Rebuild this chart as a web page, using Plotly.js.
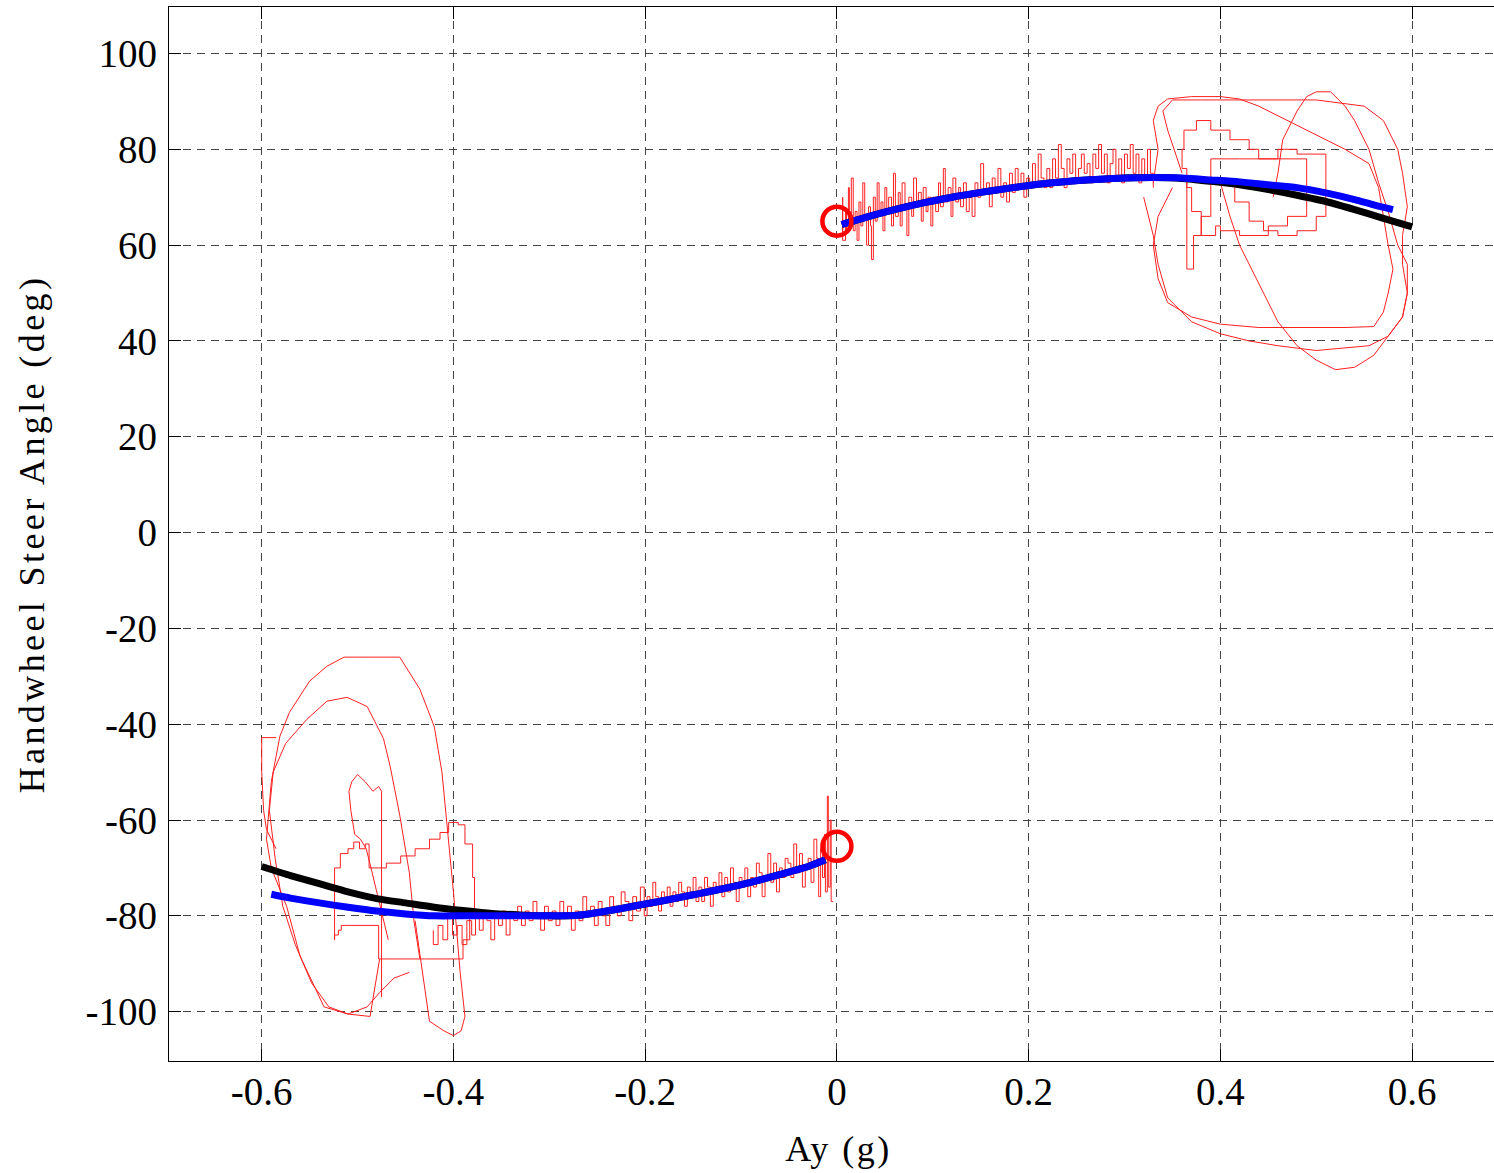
<!DOCTYPE html>
<html>
<head>
<meta charset="utf-8">
<script src="https://cdn.plot.ly/plotly-3.0.1.min.js"></script>
<style>
html, body { margin: 0; padding: 0; overflow: hidden; background: #fff; }
#chart { width: 1512px; height: 1173px; }
.g-xtitle text { letter-spacing: 2.5px; }
.g-ytitle text { letter-spacing: 3.4px; }
</style>
</head>
<body>
<div id="chart"></div>
<script>
// ---- model curves ----
const blackUpX = [0.005,0.03,0.06,0.09,0.12,0.15,0.18,0.21,0.24,0.27,0.30,0.33,0.36,0.39,0.42,0.45,0.48,0.51,0.54,0.57,0.60];
const blackUpY = [64.3,65.8,67.4,68.8,70.0,71.0,71.9,72.7,73.3,73.7,74.0,74.1,73.9,73.3,72.6,71.6,70.4,69.1,67.4,65.6,63.8];
const blueUpX = [0.005,0.03,0.06,0.09,0.12,0.15,0.18,0.21,0.24,0.27,0.30,0.33,0.36,0.39,0.42,0.45,0.48,0.51,0.54,0.56,0.58];
const blueUpY = [64.3,65.8,67.4,68.8,70.0,71.0,71.9,72.7,73.3,73.7,74.0,74.1,74.0,73.6,73.2,72.6,72.0,70.9,69.5,68.4,67.4];
const blackLoX = [-0.600,-0.570,-0.540,-0.510,-0.480,-0.450,-0.420,-0.390,-0.360,-0.330,-0.300,-0.270,-0.240,-0.210,-0.180,-0.150,-0.120,-0.090,-0.060,-0.030,-0.012];
const blackLoY = [-69.7,-71.6,-73.3,-75.0,-76.4,-77.3,-78.2,-78.9,-79.5,-79.8,-80.0,-79.9,-79.0,-77.9,-76.8,-75.6,-74.4,-73.0,-71.4,-69.7,-68.3];
const blueLoX = [-0.590,-0.570,-0.540,-0.510,-0.480,-0.450,-0.420,-0.390,-0.360,-0.330,-0.300,-0.270,-0.240,-0.210,-0.180,-0.150,-0.120,-0.090,-0.060,-0.030,-0.012];
const blueLoY = [-75.5,-76.3,-77.3,-78.2,-79.0,-79.6,-80.0,-80.0,-80.0,-80.0,-80.0,-79.9,-79.0,-77.9,-76.8,-75.6,-74.4,-73.0,-71.4,-69.7,-68.3];

// ---- start markers ----
const startX = [0, 0];
const startY = [65, -65.5];

// ---- measured data (upper, right turn) ----
const redUpJitX = [
0.004,0.006,0.006,0.009,0.010,0.012,0.013,0.015,0.017,0.019,
0.021,0.023,0.025,0.027,0.029,0.031,0.033,0.035,0.036,0.038,
0.040,0.042,0.044,0.046,0.048,0.050,0.052,0.054,0.057,0.059,
0.061,0.064,0.066,0.068,0.071,0.073,0.075,0.078,0.080,0.083,
0.085,0.088,0.090,0.093,0.095,0.098,0.100,0.103,0.106,0.108,
0.111,0.113,0.116,0.119,0.121,0.124,0.127,0.129,0.132,0.135,
0.138,0.141,0.144,0.147,0.150,0.153,0.156,0.159,0.162,0.165,
0.168,0.171,0.174,0.177,0.180,0.183,0.186,0.189,0.192,0.195,
0.198,0.201,0.204,0.207,0.210,0.213,0.216,0.219,0.222,0.225,
0.228,0.231,0.234,0.237,0.240,0.243,0.246,0.249,0.252,0.255,
0.258,0.261,0.264,0.267,0.270,0.273,0.276,0.279,0.282,0.285,
0.288,0.291,0.294,0.297,0.300,0.303,0.306,0.309,0.312,0.315,
0.318,0.321,0.324,0.327,0.330];
const redUpJitY = [
62,70,61,67,63,72,64,74,63,67,
61,69,64,73,66,60,68,64,57,70,
65,73,66,69,63,72,67,70,64,75,
66,71,64,73,68,62,70,66,74,68,
71,65,72,67,70,64,70,67,73,68,
76,69,72,66,74,69,72,68,73,67,
70,66,73,70,77,71,73,68,74,71,
76,70,73,69,75,71,76,72,75,70,
74,72,77,73,79,74,72,76,72,78,
74,81,76,72,78,75,79,73,76,79,
75,77,73,79,76,81,75,79,73,77,
80,74,78,73,79,76,81,75,79,73,
78,74,80,75,72];
const redUpLoopAX = [0.330,0.335,0.330,0.335,0.345,0.370,0.400,0.420,0.440,0.470,0.500,0.530,0.555,0.565,0.570,0.575,0.580,0.575,0.570,0.560,0.530,0.490,0.440,0.400,0.370,0.345,0.335,0.330,0.335,0.350];
const redUpLoopAY = [73,80,86,89,90.5,91,91,90.5,89,86,83,80,77,72,66,60,55,50,46,43,42.8,42.8,42.8,43.5,45,48,53,60,66,72];
const redUpLoopBX = [0.400,0.410,0.420,0.440,0.460,0.480,0.500,0.520,0.540,0.560,0.575,0.590,0.595,0.595,0.585,0.575,0.565,0.555,0.540,0.530,0.515,0.500,0.490,0.480,0.465,0.460,0.455];
const redUpLoopBY = [73,66,60,52,44,39,36,34,34.5,37,41,45,50,56,60,67,73,80,86,89,92,92,91,88,82,75,70];
const redUpLoopCX = [0.360,0.345,0.340,0.350,0.380,0.430,0.470,0.500,0.550,0.570,0.585,0.590,0.595,0.590,0.590,0.595,0.590,0.575,0.555,0.500,0.460,0.430,0.400,0.370,0.345,0.335,0.330,0.325,0.320];
const redUpLoopCY = [75,84,88,90.3,90.3,90.3,90.3,90.3,89,86,80,75,68,62,56,50,45,41,39,38,39,40,41.5,44,49,56,62,66,70];
const redUpInnerX = [0.362,0.365,0.365,0.372,0.380,0.390,0.390,0.420,0.450,0.490,0.490,0.470,0.450,0.420,0.400,0.395,0.380,0.370,0.365,0.360,0.362,0.375,0.390,0.410,0.430,0.440,0.460,0.480,0.510,0.510,0.500,0.480,0.460,0.445,0.430,0.415];
const redUpInnerY = [74,74,55,62,66,68,78,78,78,78,66,64,62,63,64,62,67,72,76,80,84,86,84,82,80,78,80,79,73,66,63,62,63,65,69,73];

// ---- measured data (lower, left turn) ----
const redLoJitX = [
-0.004,-0.006,-0.007,-0.009,-0.010,-0.012,-0.013,-0.015,-0.017,-0.019,
-0.021,-0.024,-0.027,-0.030,-0.033,-0.036,-0.039,-0.042,-0.045,-0.048,
-0.051,-0.054,-0.057,-0.060,-0.063,-0.066,-0.069,-0.072,-0.075,-0.078,
-0.081,-0.084,-0.087,-0.090,-0.093,-0.096,-0.099,-0.102,-0.105,-0.108,
-0.111,-0.114,-0.117,-0.120,-0.123,-0.126,-0.129,-0.132,-0.135,-0.138,
-0.141,-0.144,-0.147,-0.150,-0.153,-0.156,-0.159,-0.162,-0.165,-0.168,
-0.171,-0.174,-0.177,-0.180,-0.183,-0.186,-0.189,-0.192,-0.195,-0.198,
-0.201,-0.205,-0.209,-0.213,-0.217,-0.221,-0.225,-0.229,-0.233,-0.237,
-0.241,-0.245,-0.249,-0.253,-0.257,-0.261,-0.265,-0.269,-0.273,-0.277,
-0.281,-0.285,-0.289,-0.293,-0.297,-0.301,-0.305,-0.309,-0.313,-0.317,
-0.321,-0.325,-0.329,-0.333,-0.337,-0.341,-0.345,-0.349,-0.353,-0.357,
-0.361,-0.365,-0.369,-0.373,-0.377,-0.381,-0.386,-0.391,-0.396,-0.401,-0.406,-0.411,-0.416,-0.421];
const redLoJitY = [
-77,-60,-74,-55,-75,-63,-72,-66,-76,-68,
-64,-73,-68,-70,-74,-67,-71,-65,-72,-69,
-68,-72,-70,-75,-69,-73,-67,-72,-76,-71,
-69,-74,-72,-76,-70,-74,-72,-77,-73,-70,
-75,-72,-76,-71,-75,-73,-78,-74,-72,-77,
-74,-77,-72,-76,-74,-78,-75,-73,-77,-75,
-78,-74,-77,-75,-79,-76,-73,-78,-76,-80,
-74,-79,-76,-81,-77,-75,-80,-78,-76,-82,
-80,-77,-82,-78,-80,-76,-81,-79,-83,-78,
-80,-77,-82,-79,-81,-78,-83,-80,-77,-81,
-79,-82,-78,-81,-80,-84,-79,-82,-80,-85,
-81,-79,-83,-80,-84,-81,-86,-82,-84,-80,-85,-82,-86,-83];
const redLoLoop1X = [-0.477,-0.487,-0.510,-0.535,-0.560,-0.574,-0.590,-0.595,-0.590,-0.581,-0.571,-0.550,-0.532,-0.514,-0.490,-0.456,-0.435,-0.420,-0.412,-0.407,-0.400,-0.393,-0.388,-0.392,-0.400,-0.410,-0.425,-0.435,-0.440];
const redLoLoop1Y = [-89,-101,-100.5,-99,-88.4,-78,-70,-64,-52,-42.5,-37.5,-31,-27.9,-26,-26,-26,-32.7,-40.5,-50,-60.5,-75,-91.8,-101,-104,-105,-104,-102,-88,-81];
const redLoLoop2X = [-0.435,-0.441,-0.446,-0.456,-0.466,-0.473,-0.490,-0.511,-0.532,-0.553,-0.575,-0.588,-0.592,-0.586,-0.578,-0.565,-0.548,-0.530,-0.510,-0.490,-0.477,-0.462,-0.446];
const redLoLoop2Y = [-89,-81.3,-71,-59,-48.8,-43,-36.3,-34.4,-35.2,-39,-44,-50,-58,-68,-78,-86,-94,-99,-100.5,-99,-96,-93,-91.8];
const redLoLoop3X = [-0.585,-0.600,-0.600,-0.598,-0.595,-0.590,-0.585];
const redLoLoop3Y = [-42.8,-42.8,-50,-58,-62,-64,-66];
const redLoLoop4X = [-0.475,-0.475,-0.478,-0.484,-0.492,-0.500,-0.506,-0.509,-0.507,-0.503,-0.497,-0.491,-0.486,-0.481,-0.474,-0.468];
const redLoLoop4Y = [-97,-54,-53,-54,-52,-50.5,-52,-54,-58,-63,-64,-66,-70,-74,-80,-85];
const redLoLoop5X = [-0.524,-0.524,-0.518,-0.510,-0.504,-0.498,-0.492,-0.488,-0.488,-0.470,-0.455,-0.440,-0.425,-0.414,-0.405,-0.395,-0.388,-0.380,-0.378,-0.383,-0.390,-0.400,-0.430,-0.460,-0.478,-0.478,-0.511,-0.517,-0.520,-0.524];
const redLoLoop5Y = [-85,-70,-67,-66,-64.6,-66,-65,-69,-70,-69,-67.5,-66,-64,-62.6,-60.5,-61,-65,-72,-79,-85,-89,-89,-89,-89,-89,-82,-82,-83,-84,-85];

// ---- axes ----
const xTicks = [-0.6,-0.4,-0.2,0,0.2,0.4,0.6];
const xTickText = ['-0.6','-0.4','-0.2','0','0.2','0.4','0.6'];
const yTicks = [-100,-80,-60,-40,-20,0,20,40,60,80,100];
const yTickText = ['-100','-80','-60','-40','-20','0','20','40','60','80','100'];

const RED = '#ff2020';
function red(x, y, shape) {
  return { x: x, y: y, type: 'scatter', mode: 'lines', hoverinfo: 'skip',
           line: { color: RED, width: 1, shape: shape || 'linear' }, showlegend: false };
}
function thick(x, y, color) {
  return { x: x, y: y, type: 'scatter', mode: 'lines', hoverinfo: 'skip',
           line: { color: color, width: 7, shape: 'spline', smoothing: 0.6 }, showlegend: false };
}

const traces = [
  red(redUpJitX, redUpJitY, 'hv'),
  red(redUpLoopAX, redUpLoopAY),
  red(redUpLoopBX, redUpLoopBY),
  red(redUpLoopCX, redUpLoopCY),
  red(redUpInnerX, redUpInnerY, 'hv'),
  red(redLoJitX, redLoJitY, 'hv'),
  red(redLoLoop1X, redLoLoop1Y),
  red(redLoLoop2X, redLoLoop2Y),
  red(redLoLoop3X, redLoLoop3Y),
  red(redLoLoop4X, redLoLoop4Y),
  red(redLoLoop5X, redLoLoop5Y, 'hv'),
  thick(blackUpX, blackUpY, '#000000'),
  thick(blackLoX, blackLoY, '#000000'),
  thick(blueUpX, blueUpY, '#0000ff'),
  thick(blueLoX, blueLoY, '#0000ff'),
  { x: startX, y: startY, type: 'scatter', mode: 'markers', hoverinfo: 'skip', showlegend: false,
    marker: { symbol: 'circle-open', size: 29, color: '#ff0000', line: { color: '#ff0000', width: 4.5 } } }
];

const FONT = '"Liberation Serif", "Times New Roman", Times, serif';
const axisCommon = {
  showline: true, linecolor: '#000', linewidth: 1.3, mirror: 'allticks',
  ticks: 'inside', ticklen: 12, tickwidth: 1, tickcolor: '#000',
  showgrid: true, gridcolor: '#444', gridwidth: 1, griddash: '8px,6px',
  zeroline: false, tickfont: { family: FONT, size: 39, color: '#000' }
};

const layout = {
  width: 1512, height: 1173,
  margin: { l: 169, r: 4, t: 7, b: 112 },
  paper_bgcolor: '#fff', plot_bgcolor: '#fff',
  showlegend: false,
  xaxis: Object.assign({}, axisCommon, {
    range: [-0.6967, 0.7], tickmode: 'array', tickvals: xTicks, ticktext: xTickText,
    ticklabelstandoff: -4,
    title: { text: 'Ay (g)', font: { family: FONT, size: 36, color: '#000' }, standoff: 23 }
  }),
  yaxis: Object.assign({}, axisCommon, {
    range: [-110.3, 109.7], tickmode: 'array', tickvals: yTicks, ticktext: yTickText,
    ticklabelstandoff: 3,
    title: { text: 'Handwheel Steer Angle (deg)', font: { family: FONT, size: 36, color: '#000' }, standoff: 29 }
  })
};

Plotly.newPlot('chart', traces, layout, { displayModeBar: false, staticPlot: true });
</script>
</body>
</html>
